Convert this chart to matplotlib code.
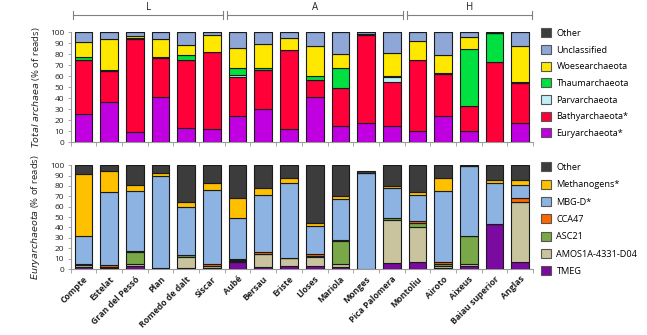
import matplotlib
matplotlib.use("Agg")
import matplotlib.pyplot as plt
import numpy as np
from matplotlib.patches import Patch
from matplotlib.transforms import blended_transform_factory
from matplotlib.lines import Line2D

plt.rcParams['font.family'] = ['Open Sans', 'DejaVu Sans']

sites = ["Compte", "Estelat", "Gran del Pessó", "Plan", "Romedo de dalt", "Síscar",
         "Aubé", "Bersau", "Eriste", "Lloses", "Mariola", "Monges", "Pica Palomera",
         "Montoliu", "Airoto", "Aixeus", "Baiau superior", "Anglas"]

# Groups of sites shown by the brackets above the top panel
groups = [("L", 0, 5), ("A", 6, 12), ("H", 13, 17)]

# ---- Total archaea (% of reads), stacked from bottom to top ----
euryarchaeota  = [25.3, 36.7, 8.7, 41.3, 12.7, 12.3, 23.8, 29.8, 11.7, 40.7, 14.8, 17.2, 15.0, 9.6, 23.5, 10.5, 0.0, 17.2]
bathyarchaeota = [49.7, 28.3, 85.3, 35.5, 61.7, 69.3, 35.5, 36.2, 72.3, 15.6, 34.0, 79.8, 40.0, 65.4, 38.2, 22.0, 73.2, 36.8]
parvarchaeota  = [0.0, 0.0, 0.0, 0.0, 0.0, 0.0, 1.8, 0.0, 0.0, 0.0, 0.0, 0.0, 4.3, 0.0, 0.0, 0.0, 0.0, 0.0]
thaumarchaeota = [2.4, 0.5, 0.5, 0.7, 5.1, 0.4, 6.7, 1.0, 0.0, 3.7, 19.0, 1.5, 0.7, 0.0, 1.2, 52.1, 25.8, 1.0]
woesearchaeota = [13.9, 27.9, 2.2, 16.5, 8.5, 15.0, 18.2, 22.5, 10.9, 27.3, 12.6, 0.0, 21.0, 17.2, 16.6, 11.4, 0.0, 32.3]
unclassified   = [8.7, 6.6, 3.3, 6.0, 12.0, 3.0, 14.0, 10.5, 5.1, 12.7, 19.6, 1.5, 19.0, 7.8, 20.5, 4.0, 0.0, 12.7]
other_total    = [0.0, 0.0, 0.0, 0.0, 0.0, 0.0, 0.0, 0.0, 0.0, 0.0, 0.0, 0.0, 0.0, 0.0, 0.0, 0.0, 1.0, 0.0]

# ---- Euryarchaeota (% of reads), stacked from bottom to top ----
tmeg        = [2.0, 0.7, 2.6, 0.0, 0.5, 1.3, 6.4, 2.2, 3.2, 2.6, 1.6, 0.0, 6.1, 6.4, 1.0, 2.6, 43.3, 6.4]
amos1a      = [1.5, 0.8, 2.5, 0.5, 11.4, 1.5, 1.1, 11.9, 7.1, 9.3, 2.9, 0.0, 40.7, 34.0, 2.2, 1.9, 0.0, 57.7]
asc21       = [0.5, 0.7, 11.6, 0.5, 1.3, 0.4, 1.0, 0.4, 0.0, 0.4, 22.4, 0.0, 2.6, 3.8, 1.9, 26.9, 0.0, 0.0]
cca47       = [1.0, 1.8, 0.5, 0.0, 0.3, 1.3, 0.7, 1.5, 0.5, 1.8, 0.7, 0.0, 0.0, 2.3, 1.9, 0.0, 0.0, 3.8]
mbg_d       = [26.7, 70.4, 57.5, 88.7, 46.5, 71.5, 39.5, 55.2, 71.6, 27.2, 39.7, 92.0, 28.8, 24.7, 68.3, 68.0, 39.4, 12.9]
methanogens = [60.0, 20.2, 6.1, 2.3, 4.1, 6.7, 19.3, 6.4, 5.4, 3.3, 3.2, 0.3, 1.3, 2.5, 11.9, 0.0, 2.6, 5.1]
other_eury  = [8.3, 5.4, 19.2, 8.0, 35.9, 17.3, 32.0, 22.4, 12.2, 55.4, 29.5, 2.2, 20.5, 26.3, 12.8, 0.6, 14.7, 14.1]

top_series = [
    ("Euryarchaeota*", euryarchaeota, "#c000e0"),
    ("Bathyarchaeota*", bathyarchaeota, "#ff0038"),
    ("Parvarchaeota", parvarchaeota, "#bff0f8"),
    ("Thaumarchaeota", thaumarchaeota, "#00e040"),
    ("Woesearchaeota", woesearchaeota, "#ffe800"),
    ("Unclassified", unclassified, "#8fa7d6"),
    ("Other", other_total, "#3c3c3c"),
]
bottom_series = [
    ("TMEG", tmeg, "#7a0aa0"),
    ("AMOS1A-4331-D04", amos1a, "#c9c49e"),
    ("ASC21", asc21, "#78a848"),
    ("CCA47", cca47, "#ff6600"),
    ("MBG-D*", mbg_d, "#8db3e2"),
    ("Methanogens*", methanogens, "#ffc000"),
    ("Other", other_eury, "#3c3c3c"),
]

fig = plt.figure(figsize=(6.47, 3.35), dpi=100)
ax_top = fig.add_axes([0.109, 0.576, 0.715, 0.328])
ax_bot = fig.add_axes([0.109, 0.197, 0.715, 0.310])

x = np.arange(len(sites))
bar_w = 0.69
spine_col = "#9a9a9a"


def draw_stack(ax, series):
    bottom = np.zeros(len(sites))
    handles = []
    for name, vals, col in series:
        v = np.asarray(vals, dtype=float)
        ax.bar(x, v, bar_w, bottom=bottom, color=col, edgecolor="#1a1a1a",
               linewidth=0.8, zorder=3)
        bottom += v
        handles.append(Patch(facecolor=col, edgecolor="#555555", linewidth=0.8, label=name))
    return handles[::-1]


def style_axis(ax):
    ax.set_xlim(-0.5, len(sites) - 0.5)
    ax.set_ylim(0, 100)
    ax.set_yticks(np.arange(0, 101, 10))
    ax.tick_params(axis='y', labelsize=6, length=2.5, width=0.6, color=spine_col, pad=2)
    ax.set_xticks(np.arange(len(sites) + 1) - 0.5, minor=True)
    ax.tick_params(axis='x', which='minor', length=3, width=0.6, color=spine_col)
    ax.tick_params(axis='x', which='major', length=0)
    for s in ("top", "right"):
        ax.spines[s].set_visible(False)
    for s in ("left", "bottom"):
        ax.spines[s].set_color(spine_col)
        ax.spines[s].set_linewidth(0.8)
    for lab in ax.get_yticklabels():
        lab.set_color("#222222")


h_top = draw_stack(ax_top, top_series)
h_bot = draw_stack(ax_bot, bottom_series)
style_axis(ax_top)
style_axis(ax_bot)

ax_top.set_xticks(x)
ax_top.set_xticklabels([])
ax_bot.set_xticks(x)
ax_bot.set_xticklabels(sites, rotation=45, ha="right", rotation_mode="anchor",
                       fontsize=6.3, fontweight="bold", color="#222222")
ax_bot.tick_params(axis='x', which='major', pad=4)

ax_top.set_ylabel(r"$\it{Total\ archaea}$ (% of reads)", fontsize=6.8, labelpad=6, color="#222222")
ax_bot.set_ylabel(r"$\it{Euryarchaeota}$ (% of reads)", fontsize=6.8, labelpad=6, color="#222222")

leg_kw = dict(frameon=False, fontsize=6.6, handlelength=1.1, handleheight=1.1,
              handletextpad=0.6, borderaxespad=0, borderpad=0, loc="upper left")
fig.legend(handles=h_top, bbox_to_anchor=(0.836, 0.915), labelspacing=0.78, **leg_kw)
fig.legend(handles=h_bot, bbox_to_anchor=(0.836, 0.515), labelspacing=0.85, **leg_kw)

# Group brackets above the top panel
tr = blended_transform_factory(ax_top.transData, fig.transFigure)
y_line = 0.955
cap = 0.012
for label, i0, i1 in groups:
    x0, x1 = i0 - 0.4, i1 + 0.45
    fig.add_artist(Line2D([x0, x1], [y_line, y_line], transform=tr, color="#808080", lw=0.8))
    for xc in (x0, x1):
        fig.add_artist(Line2D([xc, xc], [y_line - cap, y_line + cap], transform=tr,
                              color="#808080", lw=0.8))
    fig.text((x0 + x1) / 2, 0.978, label, transform=tr, ha="center", va="center",
             fontsize=7, color="#222222")

fig.savefig("out.png", dpi=100)
